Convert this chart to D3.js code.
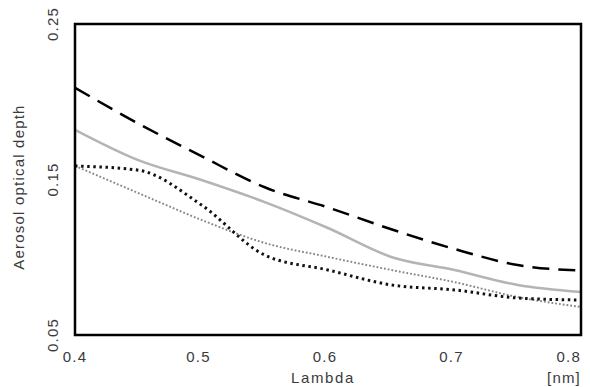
<!DOCTYPE html>
<html>
<head>
<meta charset="utf-8">
<script src="https://cdn.jsdelivr.net/npm/d3@7"></script>
<style>
body{margin:0;background:#fff;}
text{font-family:"Liberation Sans",Arial,sans-serif;fill:#3a3a3a;}
</style>
</head>
<body>
<svg id="c" width="590" height="387"></svg>
<script>
const lambda = [0.40,0.45,0.50,0.55,0.60,0.65,0.70,0.75,0.80];
const dashedBlack = [0.209,0.186,0.165,0.145,0.132,0.118,0.1053,0.095,0.0914];
const solidGrey   = [0.182,0.1625,0.1497,0.1355,0.1188,0.1002,0.0918,0.0822,0.0777];
const dottedBlack = [0.1587,0.156,0.1336,0.1014,0.0918,0.0822,0.079,0.0738,0.0725];
const dottedGrey  = [0.1587,0.1413,0.124,0.1092,0.1002,0.0918,0.084,0.0744,0.068];
const xTicks = [0.4,0.5,0.6,0.7,0.8];
const yTicks = [0.05,0.15,0.25];

const svg = d3.select("#c");
const L=75,R=581,T=24,B=335;
const x = d3.scaleLinear().domain([0.4,0.8]).range([L,R]);
const y = d3.scaleLinear().domain([0.05,0.25]).range([B,T]);

svg.append("clipPath").attr("id","clip").append("rect")
  .attr("x",L).attr("y",T).attr("width",R-L).attr("height",B-T);

const line = d3.line().x(d=>x(d[0])).y(d=>y(d[1])).curve(d3.curveMonotoneX);
const series = [
  {v:dottedGrey, stroke:"#858585", w:1.9, dash:"1.8,2"},
  {v:dottedBlack, stroke:"#111", w:3, dash:"2.5,3.6"},
  {v:solidGrey, stroke:"#b4b4b4", w:2.5, dash:null},
  {v:dashedBlack, stroke:"#000", w:2.5, dash:"17,9"}
];
const g = svg.append("g").attr("clip-path","url(#clip)");
series.forEach(s=>{
  g.append("path").datum(lambda.map((l,i)=>[l,s.v[i]]))
   .attr("d",line).attr("fill","none").attr("stroke",s.stroke)
   .attr("stroke-width",s.w).attr("stroke-dasharray",s.dash);
});

svg.append("rect").attr("x",L).attr("y",T).attr("width",R-L).attr("height",B-T)
  .attr("fill","none").attr("stroke","#000").attr("stroke-width",2.5);

// x tick labels
svg.append("g").selectAll("text").data(xTicks).join("text")
  .attr("x",(d,i)=> i===xTicks.length-1 ? R : x(d)-(i===0?0:3))
  .attr("y",362)
  .attr("text-anchor",(d,i)=> i===xTicks.length-1 ? "end":"middle")
  .attr("font-size",15).attr("letter-spacing",1.2)
  .text(d=>d.toFixed(1));

// y tick labels (rotated)
svg.append("g").selectAll("text").data(yTicks).join("text")
  .attr("transform",d=>`translate(57.5,${y(d)}) rotate(-90)`)
  .attr("text-anchor","middle")
  .attr("font-size",15).attr("letter-spacing",1.2)
  .text(d=>d.toFixed(2));

svg.append("text").attr("x",323).attr("y",383).attr("text-anchor","middle")
  .attr("font-size",15).attr("letter-spacing",1.6).text("Lambda");
svg.append("text").attr("x",R).attr("y",383).attr("text-anchor","end")
  .attr("font-size",15).attr("letter-spacing",1.2).text("[nm]");
svg.append("text").attr("transform","translate(24,187) rotate(-90)")
  .attr("text-anchor","middle").attr("font-size",15).attr("letter-spacing",1.2)
  .text("Aerosol optical depth");
</script>
</body>
</html>
